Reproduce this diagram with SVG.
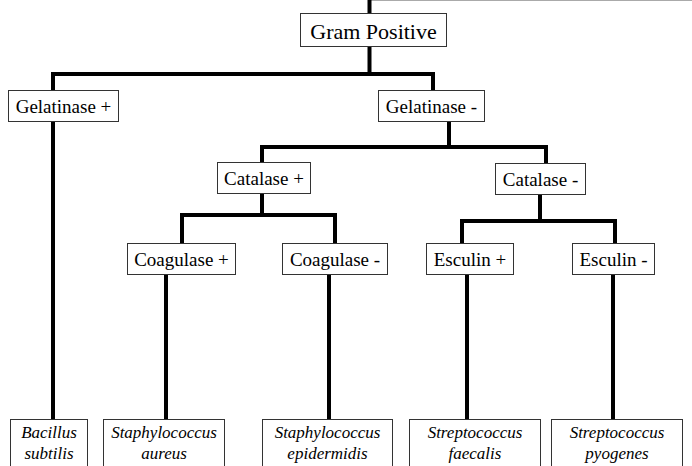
<svg xmlns="http://www.w3.org/2000/svg" width="692" height="466" viewBox="0 0 692 466">
<rect width="692" height="466" fill="#fff"/>
<line x1="371" y1="0.5" x2="692" y2="0.5" stroke="#aaa" stroke-width="1"/>
<g id="connectors" fill="none" stroke="#000" stroke-width="4">
<path d="M369.5 0 V74"/>
<path d="M53 91 V74 H433 V91"/>
<path d="M53 74 V420"/>
<path d="M449 121 V147"/>
<path d="M262 163 V147 H546 V164"/>
<path d="M262 193 V215"/>
<path d="M182 244 V215 H335 V244"/>
<path d="M540 194 V221"/>
<path d="M462 244 V221 H615 V244"/>
<path d="M166 274 V420"/>
<path d="M329 274 V420"/>
<path d="M467 274 V420"/>
<path d="M613 274 V420"/>
</g>
<g id="gram-positive"><rect fill="#fff" stroke="#333" x="300.5" y="13.5" width="146" height="33"/><text x="373.5" y="38.5" text-anchor="middle" style="font-family:'Liberation Serif';font-size:22px">Gram Positive</text></g>
<g id="gelatinase-pos"><rect fill="#fff" stroke="#333" x="8.5" y="90.5" width="110" height="31"/><text x="63.5" y="112.5" text-anchor="middle" style="font-family:'Liberation Serif';font-size:19px">Gelatinase +</text></g>
<g id="gelatinase-neg"><rect fill="#fff" stroke="#333" x="378.5" y="90.5" width="106" height="31"/><text x="431.5" y="112.5" text-anchor="middle" style="font-family:'Liberation Serif';font-size:19px">Gelatinase -</text></g>
<g id="catalase-pos"><rect fill="#fff" stroke="#333" x="217.5" y="162.5" width="93" height="31"/><text x="264" y="184.5" text-anchor="middle" style="font-family:'Liberation Serif';font-size:19px">Catalase +</text></g>
<g id="catalase-neg"><rect fill="#fff" stroke="#333" x="495.5" y="163.5" width="90" height="31"/><text x="540.5" y="185.5" text-anchor="middle" style="font-family:'Liberation Serif';font-size:19px">Catalase -</text></g>
<g id="coagulase-pos"><rect fill="#fff" stroke="#333" x="127.5" y="243.5" width="108" height="31"/><text x="181.5" y="265.5" text-anchor="middle" style="font-family:'Liberation Serif';font-size:19px">Coagulase +</text></g>
<g id="coagulase-neg"><rect fill="#fff" stroke="#333" x="282.5" y="243.5" width="105" height="31"/><text x="335" y="265.5" text-anchor="middle" style="font-family:'Liberation Serif';font-size:19px">Coagulase -</text></g>
<g id="esculin-pos"><rect fill="#fff" stroke="#333" x="426.5" y="243.5" width="87" height="31"/><text x="470" y="265.5" text-anchor="middle" style="font-family:'Liberation Serif';font-size:19px">Esculin +</text></g>
<g id="esculin-neg"><rect fill="#fff" stroke="#333" x="572.5" y="243.5" width="82" height="31"/><text x="613.5" y="265.5" text-anchor="middle" style="font-family:'Liberation Serif';font-size:19px">Esculin -</text></g>
<g id="bacillus-subtilis"><rect fill="#fff" stroke="#333" x="10.5" y="419.5" width="77" height="52"/><text x="49" y="438" text-anchor="middle" style="font-family:'Liberation Serif';font-size:17px;font-style:italic">Bacillus</text><text x="49" y="459" text-anchor="middle" style="font-family:'Liberation Serif';font-size:17px;font-style:italic">subtilis</text></g>
<g id="staphylococcus-aureus"><rect fill="#fff" stroke="#333" x="103.5" y="419.5" width="121" height="52"/><text x="164" y="438" text-anchor="middle" style="font-family:'Liberation Serif';font-size:17px;font-style:italic">Staphylococcus</text><text x="164" y="459" text-anchor="middle" style="font-family:'Liberation Serif';font-size:17px;font-style:italic">aureus</text></g>
<g id="staphylococcus-epidermidis"><rect fill="#fff" stroke="#333" x="262.5" y="419.5" width="130" height="52"/><text x="327.5" y="438" text-anchor="middle" style="font-family:'Liberation Serif';font-size:17px;font-style:italic">Staphylococcus</text><text x="327.5" y="459" text-anchor="middle" style="font-family:'Liberation Serif';font-size:17px;font-style:italic">epidermidis</text></g>
<g id="streptococcus-faecalis"><rect fill="#fff" stroke="#333" x="409.5" y="419.5" width="131" height="52"/><text x="475" y="438" text-anchor="middle" style="font-family:'Liberation Serif';font-size:17px;font-style:italic">Streptococcus</text><text x="475" y="459" text-anchor="middle" style="font-family:'Liberation Serif';font-size:17px;font-style:italic">faecalis</text></g>
<g id="streptococcus-pyogenes"><rect fill="#fff" stroke="#333" x="551.5" y="419.5" width="131" height="52"/><text x="617" y="438" text-anchor="middle" style="font-family:'Liberation Serif';font-size:17px;font-style:italic">Streptococcus</text><text x="617" y="459" text-anchor="middle" style="font-family:'Liberation Serif';font-size:17px;font-style:italic">pyogenes</text></g>
</svg>
